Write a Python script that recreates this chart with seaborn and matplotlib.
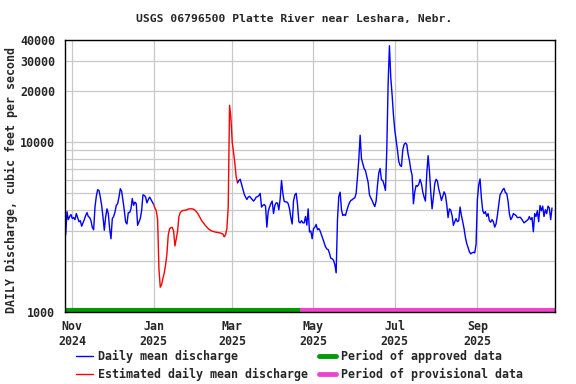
import numpy as np
import pandas as pd
import matplotlib
matplotlib.use("Agg")
import matplotlib.pyplot as plt
import matplotlib.ticker as mticker
from matplotlib.lines import Line2D
import seaborn as sns

# daily mean discharge, cfs, starting 2024-10-27
start_date = "2024-10-27"

# approved, before the estimated period (Oct 27 - Jan 1)
flow_early = [
    2850, 3900, 3500, 3650, 3750, 3550, 3600, 3500, 3800, 3600,
    3400, 3450, 3200, 3350, 3500, 3700, 3850, 3650, 3600, 3450,
    3150, 3050, 4150, 4800, 5250, 5200, 4750, 4250, 3630, 3030,
    3630, 4050, 3800, 3100, 2700, 3550, 3650, 3880, 4250, 4340,
    4750, 5320, 5150, 4540, 3970, 3390, 3300, 3850, 3850, 4050,
    4660, 4250, 4440, 4340, 3240, 3390, 3550, 3950, 4900, 4860,
    4750, 4390, 4600, 4750, 4600, 4450, 4300,
]

# estimated values (ice affected), Jan 2 - Mar 4
flow_est = [
    4100, 3950, 3500, 1800, 1400, 1450, 1580, 1700, 1900, 2200,
    2850, 3090, 3140, 3150, 3000, 2450, 2700, 3000, 3650, 3850,
    3920, 3960, 3970, 3980, 4000, 4040, 4050, 4050, 4050, 4030,
    3980, 3900, 3820, 3700, 3580, 3460, 3380, 3300, 3220, 3160,
    3100, 3050, 3020, 2990, 2980, 2960, 2950, 2940, 2930, 2920,
    2900, 2880, 2770, 2850, 3100, 4150, 16500, 14000, 10000, 8700,
    7500, 6220,
]

# Mar 5 - Oct 27
flow_late = [
    5770, 5950, 6050, 5650, 5250, 4950, 4750, 4600, 4750, 4800,
    4700, 4600, 4500, 4600, 4750, 4780, 4850, 5000, 4150, 4250,
    4300, 4200, 3160, 3900, 4150, 4350, 4500, 3800, 4240, 4400,
    4380, 4000, 4660, 5950, 5000, 4480, 4450, 4450, 4350, 4050,
    3600, 3300, 4500, 4900, 5000, 4300, 3400, 3350, 3450, 3350,
    3350, 3650, 3250, 4050, 2960, 3000, 2700, 3100, 3150, 3280,
    3050, 3100, 3000, 2850, 2700, 2550, 2420, 2350, 2330, 2220,
    2070, 2060, 2020, 1900, 1700, 3500, 4800, 5080, 4000, 3700,
    3750, 3700, 3960, 4200, 4400, 4540, 4580, 4660, 4700, 5000,
    6220, 7900, 11000, 8000, 7500, 7000, 6800, 6300, 5800, 4900,
    4700, 4540, 4340, 4180, 4500, 5560, 6600, 7000, 6000, 5950,
    5600, 5200, 9000, 22000, 37000, 24000, 19000, 14500, 11800, 10300,
    9000, 7700, 7300, 7200, 9000, 9700, 9900, 9700, 8500, 7800,
    6900, 6400, 4340, 5100, 5560, 5500, 5650, 6040, 5700, 5100,
    4750, 4500, 6500, 8330, 6800, 5100, 4050, 4750, 5700, 6050,
    5900, 5300, 4950, 4540, 4800, 5100, 4900, 4300, 3600, 4050,
    3980, 3700, 3240, 3400, 3550, 3400, 3450, 4150, 3700, 3400,
    3100, 2750, 2530, 2400, 2260, 2200, 2230, 2250, 2230, 2500,
    4600, 5600, 6080, 4700, 3960, 3800, 3900, 3660, 3800, 3450,
    3380, 3500, 3400, 3160, 3300, 3700, 4240, 4900, 5050, 5250,
    5350, 5050, 5000, 4500, 3800, 3500, 3600, 3800, 3750, 3700,
    3600, 3600, 3620, 3550, 3450, 3350, 3400, 3450, 3500, 3650,
    3500, 3600, 2970, 3800, 3650, 3950, 3400, 4240, 3950, 4200,
    3650, 4000, 3800, 4200, 4100, 3500, 4100,
]

approved_end = "2025-04-21"
x_start, x_end = "2024-10-26 12:00", "2025-10-29 06:00"

month_ticks = ["2024-11-01", "2025-01-01", "2025-03-01", "2025-05-01", "2025-07-01", "2025-09-01"]
month_labels = ["Nov\n2024", "Jan\n2025", "Mar\n2025", "May\n2025", "Jul\n2025", "Sep\n2025"]

y_grid = [1000, 2000, 3000, 4000, 5000, 6000, 7000, 8000, 9000, 10000, 20000, 30000, 40000]
y_labels = ["1000", "", "", "", "", "", "", "", "", "10000", "20000", "30000", "40000"]

flow = flow_early + flow_est + flow_late
dates = pd.date_range(start_date, periods=len(flow), freq="D")
df = pd.DataFrame({"date": dates, "flow": flow})
n1 = len(flow_early)
n2 = n1 + len(flow_est)

sns.set_style("white")
plt.rcParams["font.family"] = ["DejaVu Sans Mono"]
plt.rcParams["font.weight"] = "bold"

fig = plt.figure(figsize=(5.76, 3.84), dpi=100)
ax = fig.add_axes([65 / 576, 1 - 312 / 384, 490 / 576, 272 / 384])

blue = "#0000ff"
red = "#ff0000"

sns.lineplot(data=df.iloc[:n1], x="date", y="flow", color=blue, lw=1.0, ax=ax)
sns.lineplot(data=df.iloc[n1 - 1:n2 + 1], x="date", y="flow", color=red, lw=1.0, ax=ax)
sns.lineplot(data=df.iloc[n2:], x="date", y="flow", color=blue, lw=1.0, ax=ax)

ax.set_yscale("log")
ax.set_ylim(1000, 40000)
ax.set_xlim(pd.Timestamp(x_start), pd.Timestamp(x_end))

ax.yaxis.set_major_locator(mticker.FixedLocator(y_grid))
ax.yaxis.set_major_formatter(mticker.FixedFormatter(y_labels))
ax.yaxis.set_minor_locator(mticker.NullLocator())
ax.set_xticks(pd.to_datetime(month_ticks))
ax.set_xticklabels(month_labels, linespacing=1.2)
ax.tick_params(axis="both", length=0, labelsize=8.4)
ax.tick_params(axis="y", pad=7)
ax.tick_params(axis="x", pad=6)
for t in ax.get_xticklabels() + ax.get_yticklabels():
    t.set_fontweight("bold")

ax.grid(True, color="#c8c8c8", lw=0.9)
ax.set_axisbelow(True)
for s in ax.spines.values():
    s.set_color("black")
    s.set_linewidth(1.0)
ax.set_xlabel("")
ax.set_ylabel("")

# approval status bar along the bottom
green = "#009900"
pink = "#ee44cc"
ax.plot([pd.Timestamp(x_start), pd.Timestamp(approved_end)], [1022, 1022],
        color=green, lw=3.0, solid_capstyle="butt", clip_on=False)
ax.plot([pd.Timestamp(approved_end), pd.Timestamp(x_end)], [1022, 1022],
        color=pink, lw=3.0, solid_capstyle="butt", clip_on=False)

fig.text(294.5 / 576, 1 - 19 / 384, "USGS 06796500 Platte River near Leshara, Nebr.",
         ha="center", va="center", fontsize=8.2, fontweight="bold")
fig.text(11 / 576, 1 - 180 / 384, "DAILY Discharge, cubic feet per second",
         ha="center", va="center", rotation=90, fontsize=8.4, fontweight="bold")

handles = [
    Line2D([], [], color=blue, lw=1.0),
    Line2D([], [], color=red, lw=1.0),
    Line2D([], [], color=green, lw=3.5),
    Line2D([], [], color=pink, lw=3.5),
]
labels = ["Daily mean discharge", "Estimated daily mean discharge",
          "Period of approved data", "Period of provisional data"]
fig.legend(handles, labels, ncol=2, loc="upper left",
           bbox_to_anchor=(76 / 576, 1 - 350 / 384), frameon=False,
           prop={"family": "DejaVu Sans Mono", "weight": "bold", "size": 8.4},
           handlelength=1.45, handletextpad=0.45, columnspacing=0.9,
           labelspacing=0.4, borderpad=0, borderaxespad=0)

fig.savefig("out.png", dpi=100)
